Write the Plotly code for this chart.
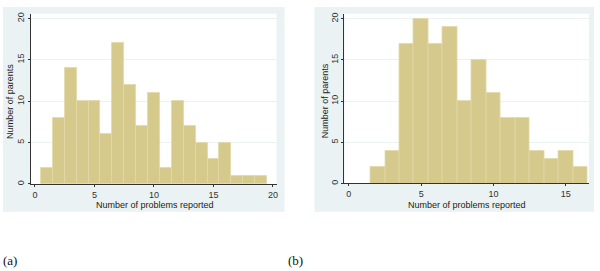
import plotly.graph_objects as go

# Panel (a)
problems_a = list(range(1, 20))
parents_a = [2, 8, 14, 10, 10, 6, 17, 12, 7, 11, 2, 10, 7, 5, 3, 5, 1, 1, 1]
# Panel (b)
problems_b = list(range(2, 17))
parents_b = [2, 4, 17, 20, 17, 19, 10, 15, 11, 8, 8, 4, 3, 4, 2]

x_ticks_a = [0, 5, 10, 15, 20]
x_ticks_b = [0, 5, 10, 15]
y_ticks = [0, 5, 10, 15, 20]
panel_labels = ["(a)", "(b)"]
x_title = "Number of problems reported"
y_title = "Number of parents"

W, H = 600, 271
BAR = "#D5C98C"
BAR_LINE = "#E2D9AA"
BG = "#EAF2F3"
FONT = "Liberation Sans"

def px(x):
    return x / W

def py(y):
    return 1 - y / H

fig = go.Figure()
fig.add_trace(go.Bar(x=problems_a, y=parents_a, width=1, marker=dict(color=BAR, line=dict(color=BAR_LINE, width=0.8)),
                     xaxis="x", yaxis="y", showlegend=False))
fig.add_trace(go.Bar(x=problems_b, y=parents_b, width=1, marker=dict(color=BAR, line=dict(color=BAR_LINE, width=0.8)),
                     xaxis="x2", yaxis="y2", showlegend=False))

common_x = dict(showline=True, linecolor="#333333", linewidth=1, ticks="outside", ticklen=2, tickcolor="#333333",
                showgrid=False, zeroline=False, tickfont=dict(family=FONT, size=9, color="#333333"))
common_y = dict(showline=True, linecolor="#333333", linewidth=1, ticks="outside", ticklen=2, tickcolor="#333333",
                showgrid=True, gridcolor=BG, gridwidth=1, zeroline=False, tickangle=-90,
                tickfont=dict(family=FONT, size=9, color="#333333"), tickvals=y_ticks)

title_font = dict(family=FONT, size=9, color="#222222")
label_font = dict(family="Liberation Serif", size=13, color="#111111")

fig.update_layout(
    width=W, height=H, margin=dict(l=0, r=0, t=0, b=0),
    paper_bgcolor="white", plot_bgcolor="white", bargap=0,
    xaxis=dict(domain=[px(31), px(277)], range=[-0.34, 20.3], tickvals=x_ticks_a, anchor="y", **common_x),
    yaxis=dict(domain=[py(184), py(12)], range=[0, 20.56], anchor="x", **common_y),
    xaxis2=dict(domain=[px(345), px(590)], range=[-0.3, 16.6], tickvals=x_ticks_b, anchor="y2", **common_x),
    yaxis2=dict(domain=[py(183.5), py(12)], range=[0, 20.6], anchor="x2", **common_y),
    shapes=[
        dict(type="rect", xref="paper", yref="paper", x0=px(3), x1=px(285), y0=py(212), y1=py(5),
             fillcolor=BG, line=dict(width=0), layer="below"),
        dict(type="rect", xref="paper", yref="paper", x0=px(315), x1=px(595), y0=py(212), y1=py(5),
             fillcolor=BG, line=dict(width=0), layer="below"),
        dict(type="rect", xref="paper", yref="paper", x0=px(31), x1=px(277), y0=py(184), y1=py(12),
             fillcolor="white", line=dict(width=0), layer="below"),
        dict(type="rect", xref="paper", yref="paper", x0=px(345), x1=px(590), y0=py(183.5), y1=py(12),
             fillcolor="white", line=dict(width=0), layer="below"),
    ],
    annotations=[
        dict(text=x_title, xref="paper", yref="paper", x=px(155), y=py(205.5), xanchor="center", yanchor="middle",
             showarrow=False, font=title_font),
        dict(text=x_title, xref="paper", yref="paper", x=px(468), y=py(205.5), xanchor="center", yanchor="middle",
             showarrow=False, font=title_font),
        dict(text=y_title, xref="paper", yref="paper", x=px(10), y=py(100), xanchor="center", yanchor="middle",
             textangle=-90, showarrow=False, font=title_font),
        dict(text=y_title, xref="paper", yref="paper", x=px(325), y=py(100), xanchor="center", yanchor="middle",
             textangle=-90, showarrow=False, font=title_font),
        dict(text=panel_labels[0], xref="paper", yref="paper", x=px(1), y=py(271), xanchor="left", yanchor="bottom",
             showarrow=False, font=label_font),
        dict(text=panel_labels[1], xref="paper", yref="paper", x=px(286), y=py(271), xanchor="left", yanchor="bottom",
             showarrow=False, font=label_font),
    ],
)

fig.write_html("out.html", config={"displayModeBar": False},
               post_script="document.body.style.margin='0';document.body.style.overflow='hidden';")
